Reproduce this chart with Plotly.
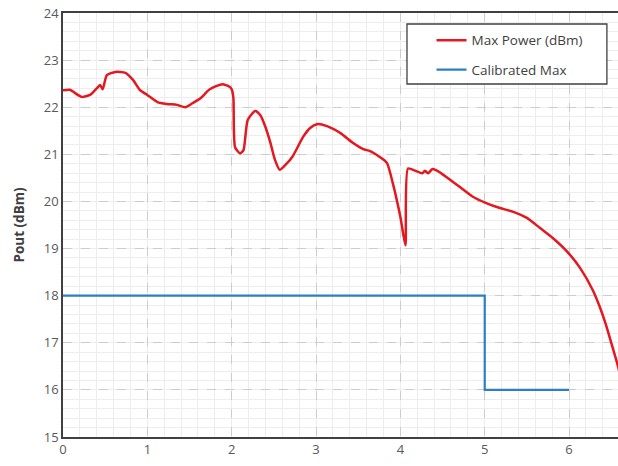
import plotly.graph_objects as go

# Measured maximum output power versus setting
max_x = [0.0, 0.08, 0.22, 0.32, 0.40, 0.44, 0.47, 0.52, 0.62, 0.74, 0.83, 0.91,
         1.0, 1.12, 1.23, 1.35, 1.45, 1.54, 1.63, 1.74, 1.89, 1.97, 2.0, 2.02,
         2.04, 2.1, 2.14, 2.19, 2.28, 2.34, 2.4, 2.46, 2.51, 2.57, 2.64, 2.72,
         2.85, 2.93, 3.01, 3.13, 3.29, 3.44, 3.56, 3.64, 3.76, 3.84, 3.91, 4.0,
         4.06, 4.09, 4.18, 4.26, 4.29, 4.33, 4.38, 4.44, 4.56, 4.71, 4.85, 5.01,
         5.18, 5.34, 5.5, 5.66, 5.81, 5.98, 6.13, 6.28, 6.36, 6.43, 6.5, 6.58, 6.7]
max_y = [22.36, 22.37, 22.22, 22.26, 22.4, 22.47, 22.38, 22.68, 22.75, 22.73, 22.58, 22.37,
         22.26, 22.11, 22.07, 22.05, 22.0, 22.09, 22.19, 22.38, 22.49, 22.44, 22.38, 22.2,
         21.15, 21.02, 21.09, 21.73, 21.92, 21.83, 21.58, 21.24, 20.9, 20.67, 20.78, 20.95,
         21.38, 21.56, 21.64, 21.6, 21.45, 21.24, 21.11, 21.07, 20.94, 20.82, 20.39, 19.67,
         19.07, 20.7, 20.65, 20.6, 20.65, 20.6, 20.69, 20.65, 20.5, 20.3, 20.11, 19.97,
         19.86, 19.78, 19.65, 19.43, 19.22, 18.93, 18.59, 18.12, 17.78, 17.42, 17.0, 16.5, 15.6]

# Calibrated maximum limit (stepped)
cal_x = [0, 5, 5, 6]
cal_y = [18, 18, 16, 16]

x_ticks = [0, 1, 2, 3, 4, 5, 6]
y_ticks = [15, 16, 17, 18, 19, 20, 21, 22, 23, 24]

FONT = "Open Sans, Noto Sans, sans-serif"

fig = go.Figure()
fig.add_trace(go.Scatter(x=max_x, y=max_y, mode="lines", name="Max Power (dBm)",
                         line=dict(color="#e3191f", width=2.5, shape="spline", smoothing=0.6),
                         legendgroup="a"))
fig.add_trace(go.Scatter(x=cal_x, y=cal_y, mode="lines", name="Calibrated Max",
                         line=dict(color="#2b7fc2", width=2.2),
                         legendgroup="b"))

axis_font = dict(family=FONT, size=13, color="#595959")
minor_grid = dict(dtick=0.2, showgrid=True, gridcolor="#ededed", gridwidth=1, griddash="solid")

# framed box behind the legend entries
fig.add_shape(type="rect", xref="paper", yref="paper",
              x0=0.6198, x1=0.980, y0=0.8325, y1=0.974,
              fillcolor="white", line=dict(color="#404040", width=1.3), layer="above")

fig.update_layout(
    width=618, height=466,
    margin=dict(l=63, r=0, t=13, b=29),
    paper_bgcolor="white", plot_bgcolor="white",
    showlegend=True,
    legend=dict(x=0.664, y=0.972, xanchor="left", yanchor="top",
                bgcolor="rgba(0,0,0,0)", borderwidth=0,
                font=dict(family=FONT, size=13.5, color="#404040"),
                tracegroupgap=9, itemwidth=30),
    xaxis=dict(range=[0, 6.58], tickvals=x_ticks, tickfont=axis_font,
               showline=True, linecolor="#404040", linewidth=1.5, mirror=True,
               showgrid=True, gridcolor="#cdcdcd", griddash="dash", gridwidth=1,
               zeroline=False, ticks="", minor=minor_grid),
    yaxis=dict(range=[15, 24], tickvals=y_ticks, tickfont=axis_font,
               title=dict(text="<b>Pout (dBm)</b>", font=dict(family=FONT, size=13.5, color="#404040"), standoff=16),
               showline=True, linecolor="#404040", linewidth=1.5,
               showgrid=True, gridcolor="#cdcdcd", griddash="dash", gridwidth=1,
               zeroline=False, ticks="", minor=minor_grid),
)

fig.write_html("out.html")
